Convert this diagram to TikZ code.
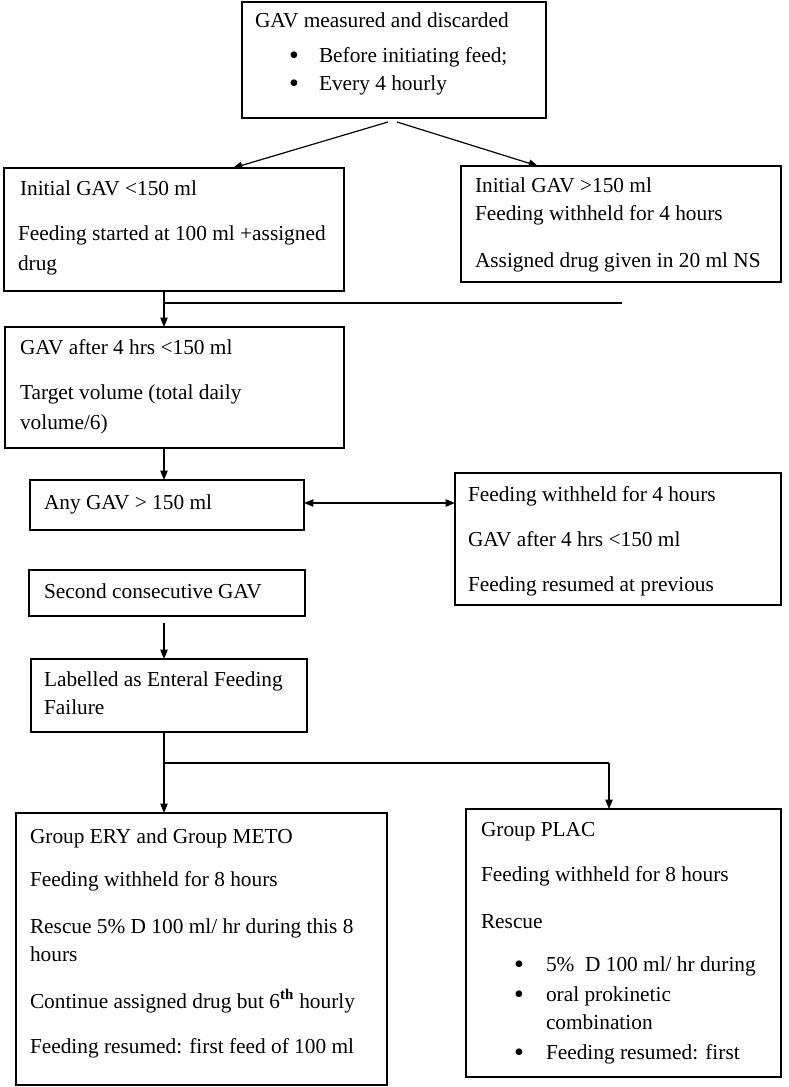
\documentclass[tikz,border=0pt]{standalone}
\usepackage{fontspec}
\setmainfont{Liberation Serif}
\usetikzlibrary{arrows.meta}
\begin{document}
\begin{tikzpicture}[x=0.75pt,y=-0.75pt,
  box/.style={draw, line width=0.9pt, anchor=north west, inner sep=0pt, outer sep=0pt},
  txt/.style={anchor=base west, inner sep=0pt, outer sep=0pt, font=\fontsize{16}{19}\selectfont},
  bul/.style={txt, font=\fontsize{21}{24}\selectfont},
  conn/.style={line width=0.9pt},
  arr/.style={conn, -{Triangle[length=7pt,width=5.5pt]}},
  darr/.style={conn, {Triangle[length=7pt,width=5.5pt]}-{Triangle[length=7pt,width=5.5pt]}}]
\fill[white] (0,0) rectangle (788,1087);
\useasboundingbox (0,0) rectangle (788,1087);

% boxes
\node[box, minimum width=228pt, minimum height=87pt] (top) at (242,2) {};
\node[box, minimum width=255pt, minimum height=92.25pt] (ilow) at (4,168) {};
\node[box, minimum width=240pt, minimum height=87pt] (ihigh) at (461,166) {};
\node[box, minimum width=254.25pt, minimum height=90.75pt] (after) at (5,327) {};
\node[box, minimum width=205.5pt, minimum height=37.5pt] (any) at (30,480) {};
\node[box, minimum width=244.5pt, minimum height=99pt] (withheld) at (455,473) {};
\node[box, minimum width=207pt, minimum height=34.5pt] (second) at (29,570) {};
\node[box, minimum width=207pt, minimum height=54.75pt] (failure) at (31,659) {};
\node[box, minimum width=278.25pt, minimum height=204pt] (ery) at (16,813) {};
\node[box, minimum width=236.25pt, minimum height=201pt] (plac) at (466,809) {};

% texts
\node[txt] (t1) at (255,28) {GAV measured and discarded};
\node[bul] (t1b1) at (289,65) {•};
\node[txt] (t1a) at (319,63) {Before initiating feed;};
\node[bul] (t1b2) at (289,93) {•};
\node[txt] (t1c) at (319,91) {Every 4 hourly};

\node[txt] (t2) at (20,196) {Initial GAV <150 ml};
\node[txt] (t2a) at (18,241) {Feeding started at 100 ml +assigned};
\node[txt] (t2b) at (18,271) {drug};

\node[txt] (t3) at (475,193) {Initial GAV >150 ml};
\node[txt] (t3a) at (475,221) {Feeding withheld for 4 hours};
\node[txt] (t3b) at (475,268) {Assigned drug given in 20 ml NS};

\node[txt] (t4) at (20,354) {GAV after 4 hrs <150 ml};
\node[txt] (t4a) at (20,399) {Target volume (total daily};
\node[txt] (t4b) at (20,429) {volume/6)};

\node[txt] (t5) at (44,509) {Any GAV > 150 ml};

\node[txt] (t6) at (468,501) {Feeding withheld for 4 hours};
\node[txt] (t6a) at (468,546) {GAV after 4 hrs <150 ml};
\node[txt] (t6b) at (468,591) {Feeding resumed at previous};

\node[txt] (t7) at (44,598) {Second consecutive GAV};

\node[txt] (t8) at (44,686) {Labelled as Enteral Feeding};
\node[txt] (t8a) at (44,714) {Failure};

\node[txt] (t9) at (30,843) {Group ERY and Group METO};
\node[txt] (t9a) at (30,886) {Feeding withheld for 8 hours};
\node[txt] (t9b) at (30,933) {Rescue 5\% D 100 ml/ hr during this 8};
\node[txt] (t9c) at (30,961) {hours};
\node[txt] (t9d) at (30,1008) {Continue assigned drug but 6\textsuperscript{\textbf{th}} hourly};
\node[txt] (t9e) at (30,1053) {Feeding resumed: first feed of 100 ml};

\node[txt] (t10) at (481,836) {Group PLAC};
\node[txt] (t10a) at (481,881) {Feeding withheld for 8 hours};
\node[txt] (t10b) at (481,928) {Rescue};
\node[bul] (t10c1) at (514,973) {•};
\node[txt] (t10c) at (546,971) {5\%\ \ D 100 ml/ hr during};
\node[bul] (t10d1) at (514,1003) {•};
\node[txt] (t10d) at (546,1001) {oral prokinetic};
\node[txt] (t10e) at (546,1029) {combination};
\node[bul] (t10f1) at (514,1061) {•};
\node[txt] (t10f) at (546,1059) {Feeding resumed: first};

% connectors
\coordinate (s1) at (388,122);
\coordinate (s2) at (397,122);
\draw[arr] (s1) -- (ilow.north west -| 233,0);
\draw[arr] (s2) -- (ihigh.north west -| 538,0);

\coordinate (a1) at (164,303);
\coordinate (a2) at (622,303);
\draw[arr] (ilow.south -| 164,0) -- (after.north -| 164,0);
\draw[conn] (a1) -- (a2);

\draw[arr] (after.south -| 164,0) -- (any.north -| 164,0);
\draw[darr] (any.east |- 0,503) -- (withheld.west |- 0,503);

\coordinate (f1) at (164,623);
\draw[arr] (f1) -- (failure.north -| 164,0);

\coordinate (sp) at (164,763);
\coordinate (sp2) at (609,763);
\draw[conn] (failure.south -| 164,0) -- (sp);
\draw[arr] (sp) -- (ery.north -| 164,0);
\draw[conn] (sp) -- (sp2);
\draw[arr] (sp2) -- (plac.north -| 609,0);
\end{tikzpicture}
\end{document}
